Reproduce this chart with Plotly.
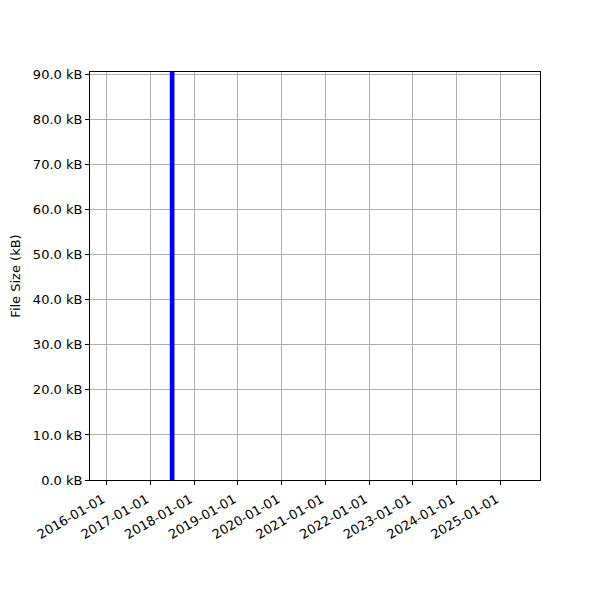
import plotly.graph_objects as go

dates = ["2017-06-30"]
sizes_kb = [90.55]
ytick_vals = [0, 10, 20, 30, 40, 50, 60, 70, 80, 90]
ytick_text = [f"{v:.1f} kB" for v in ytick_vals]
xtick_vals = [f"{y}-01-01" for y in range(2016, 2026)]

fig = go.Figure()
fig.add_trace(go.Bar(x=dates, y=sizes_kb, width=[39 * 86400000],
                     marker=dict(color="blue", line=dict(width=0))))

fig.update_layout(
    width=600, height=600,
    margin=dict(l=82, r=68, t=64, b=128),
    plot_bgcolor="white", paper_bgcolor="white",
    font=dict(family="DejaVu Sans", size=13, color="black"),
    showlegend=False,
)
fig.update_xaxes(
    type="date", range=["2015-08-14", "2025-11-28"], automargin=False,
    tickvals=xtick_vals, ticktext=xtick_vals, tickangle=-30,
    ticklabelshift=-4, ticklabelstandoff=2,
    showgrid=True, gridcolor="#b0b0b0", gridwidth=0.8,
    showline=True, linecolor="black", linewidth=1, mirror=True,
    ticks="outside", ticklen=4, tickcolor="black", zeroline=False,
)
fig.update_yaxes(
    range=[0, 90.55], automargin=False,
    tickvals=ytick_vals, ticktext=ytick_text,
    title=dict(text="File Size (kB)", standoff=10, font=dict(size=13)),
    showgrid=True, gridcolor="#b0b0b0", gridwidth=0.8,
    showline=True, linecolor="black", linewidth=1, mirror=True,
    ticks="outside", ticklen=4, tickcolor="black", zeroline=False,
)
fig.write_html("out.html")
